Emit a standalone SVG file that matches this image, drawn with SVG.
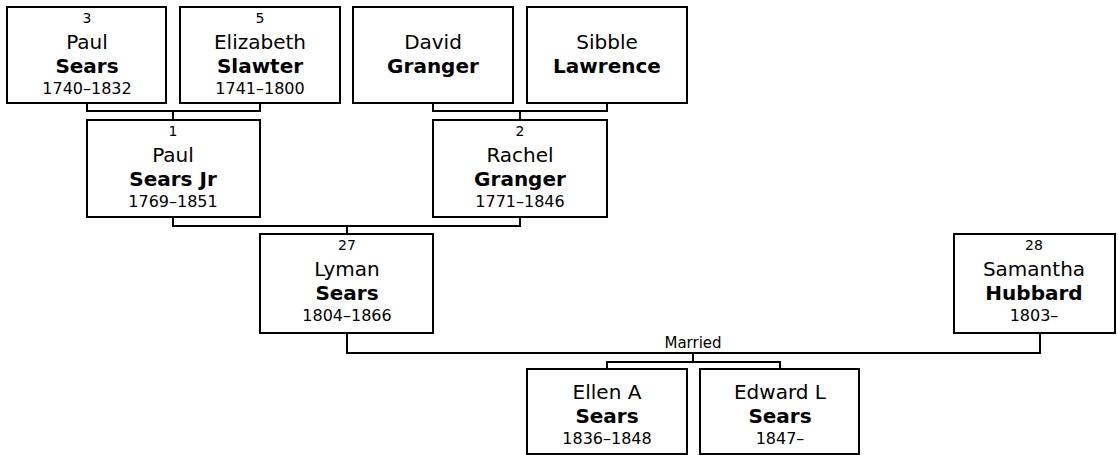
<svg xmlns="http://www.w3.org/2000/svg" width="1118" height="455" viewBox="0 0 1118 455">
<style>
.box{fill:#fff;stroke:#000;stroke-width:2}
.ln{fill:none;stroke:#000;stroke-width:2}
text{font-family:"DejaVu Sans","Liberation Sans",sans-serif;text-anchor:middle;fill:#000}
.num{font-size:14px}
.nm{font-size:20px}
.sn{font-size:20px;font-weight:bold}
.yr{font-size:16px}
.lbl{font-size:15px}
</style>
<rect width="1118" height="455" fill="#fff"/>
<g id="connectors">
<path class="ln" d="M87,103V111H260V103M173,111V120"/>
<path class="ln" d="M433,103V111H607V103M520,111V120"/>
<path class="ln" d="M173,217V226H520V217M347,226V234"/>
<path class="ln" d="M347,333V353H1040V333"/>
<path class="ln" d="M693,353V362M607,369V362H780V369"/>
<text class="lbl" x="693" y="348">Married</text>
</g>
<g id="p3">
<rect class="box" x="7" y="7" width="159" height="96"/>
<text class="num" x="87" y="23">3</text>
<text class="nm" x="87" y="49">Paul</text>
<text class="sn" x="87" y="73">Sears</text>
<text class="yr" x="87" y="94">1740–1832</text>
</g>
<g id="p5">
<rect class="box" x="180" y="7" width="160" height="96"/>
<text class="num" x="260" y="23">5</text>
<text class="nm" x="260" y="49">Elizabeth</text>
<text class="sn" x="260" y="73">Slawter</text>
<text class="yr" x="260" y="94">1741–1800</text>
</g>
<g id="david">
<rect class="box" x="353" y="7" width="160" height="96"/>
<text class="nm" x="433" y="49">David</text>
<text class="sn" x="433" y="73">Granger</text>
</g>
<g id="sibble">
<rect class="box" x="527" y="7" width="160" height="96"/>
<text class="nm" x="607" y="49">Sibble</text>
<text class="sn" x="607" y="73">Lawrence</text>
</g>
<g id="p1">
<rect class="box" x="87" y="120" width="173" height="97"/>
<text class="num" x="173" y="136">1</text>
<text class="nm" x="173" y="162">Paul</text>
<text class="sn" x="173" y="186">Sears Jr</text>
<text class="yr" x="173" y="207">1769–1851</text>
</g>
<g id="p2">
<rect class="box" x="433" y="120" width="174" height="97"/>
<text class="num" x="520" y="136">2</text>
<text class="nm" x="520" y="162">Rachel</text>
<text class="sn" x="520" y="186">Granger</text>
<text class="yr" x="520" y="207">1771–1846</text>
</g>
<g id="p27">
<rect class="box" x="260" y="234" width="173" height="99"/>
<text class="num" x="347" y="250">27</text>
<text class="nm" x="347" y="276">Lyman</text>
<text class="sn" x="347" y="300">Sears</text>
<text class="yr" x="347" y="321">1804–1866</text>
</g>
<g id="p28">
<rect class="box" x="954" y="234" width="161" height="99"/>
<text class="num" x="1034" y="250">28</text>
<text class="nm" x="1034" y="276">Samantha</text>
<text class="sn" x="1034" y="300">Hubbard</text>
<text class="yr" x="1034" y="321">1803–</text>
</g>
<g id="ellen">
<rect class="box" x="527" y="369" width="160" height="85"/>
<text class="nm" x="607" y="399">Ellen A</text>
<text class="sn" x="607" y="423">Sears</text>
<text class="yr" x="607" y="444">1836–1848</text>
</g>
<g id="edward">
<rect class="box" x="700" y="369" width="159" height="85"/>
<text class="nm" x="780" y="399">Edward L</text>
<text class="sn" x="780" y="423">Sears</text>
<text class="yr" x="780" y="444">1847–</text>
</g>
</svg>
